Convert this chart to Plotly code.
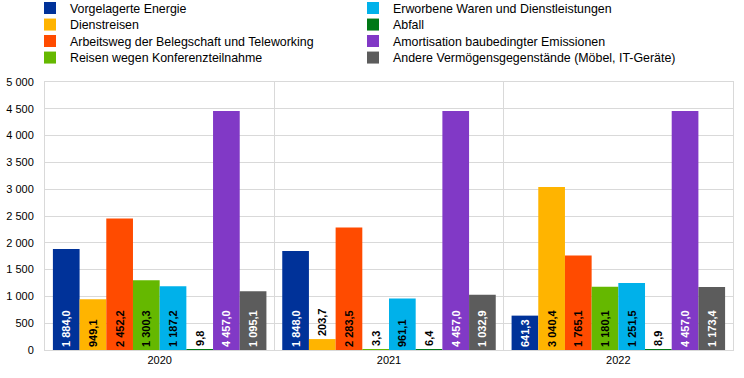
import plotly.graph_objects as go

years = ["2020", "2021", "2022"]
series_names = [
    "Vorgelagerte Energie",
    "Dienstreisen",
    "Arbeitsweg der Belegschaft und Teleworking",
    "Reisen wegen Konferenzteilnahme",
    "Erworbene Waren und Dienstleistungen",
    "Abfall",
    "Amortisation baubedingter Emissionen",
    "Andere Vermögensgegenstände (Möbel, IT-Geräte)",
]
vorgelagerte = [1884.0, 1848.0, 641.3]
dienstreisen = [949.1, 203.7, 3040.4]
arbeitsweg = [2452.2, 2283.5, 1765.1]
konferenz = [1300.3, 3.3, 1180.1]
erworbene = [1187.2, 961.1, 1251.5]
abfall = [9.8, 6.4, 8.9]
amortisation = [4457.0, 4457.0, 4457.0]
andere = [1095.1, 1032.9, 1173.4]
series_values = [vorgelagerte, dienstreisen, arbeitsweg, konferenz,
                 erworbene, abfall, amortisation, andere]

colors = ["#003299", "#FFB400", "#FF4B00", "#65B800",
          "#00B1EA", "#007816", "#8139C6", "#5C5C5C"]
label_colors = ["white", "black", "black", "black",
                "black", "black", "white", "white"]
# legend placement: (column, row)
legend_slots = [(0, 0), (0, 1), (0, 2), (0, 3), (1, 0), (1, 1), (1, 2), (1, 3)]

W, H = 744, 378
col_x = [30, 353]
row_y = [8.5, 25, 41.5, 58]

fig = go.Figure()
legend_layouts = {}
for i, (name, vals, col, lcol, slot) in enumerate(zip(series_names, series_values, colors,
                                                     label_colors, legend_slots)):
    positions = ["inside" if v > 400 else "outside" for v in vals]
    lg = "legend" if i == 0 else f"legend{i + 1}"
    fig.add_trace(go.Bar(
        x=years, y=vals, name=name,
        marker=dict(color=col, line=dict(width=0)),
        texttemplate="%{y:,.1f}",
        textposition=positions,
        insidetextanchor="start",
        textangle=-90,
        constraintext="none",
        insidetextfont=dict(color=lcol, size=11, family="Liberation Sans, Arial", weight="bold"),
        outsidetextfont=dict(color="black", size=11, family="Liberation Sans, Arial", weight="bold"),
        cliponaxis=False,
        legend=lg,
    ))
    c, r = slot
    legend_layouts[lg] = dict(
        xref="container", yref="container",
        x=col_x[c] / W, y=1 - row_y[r] / H,
        xanchor="left", yanchor="middle",
        font=dict(size=12.4, family="Liberation Sans, Arial", color="black"),
        bgcolor="rgba(0,0,0,0)",
    )

fig.update_layout(
    width=W, height=H,
    margin=dict(l=45, r=11, t=82, b=28, autoexpand=False),
    separators=", ",
    barmode="group",
    bargap=0.069,
    bargroupgap=0,
    plot_bgcolor="white",
    paper_bgcolor="white",
    font=dict(family="Liberation Sans, Arial", size=11, color="black"),
    showlegend=True,
    xaxis=dict(
        type="category",
        tickson="boundaries",
        showgrid=True, gridcolor="#d9d9d9", gridwidth=1,
        ticks="", showline=True, linecolor="#d9d9d9", mirror=True,
        tickfont=dict(size=11),
    ),
    yaxis=dict(
        range=[0, 5000], dtick=500, tickformat=",d",
        showgrid=True, gridcolor="#d9d9d9", gridwidth=1,
        showline=True, linecolor="#d9d9d9", mirror=True,
        ticks="outside", ticklen=8, tickcolor="rgba(0,0,0,0)",
        tickfont=dict(size=11),
        zeroline=False,
    ),
    **legend_layouts,
)

fig.write_html("out.html", config={"displayModeBar": False},
               post_script="document.body.style.margin='0px';")
